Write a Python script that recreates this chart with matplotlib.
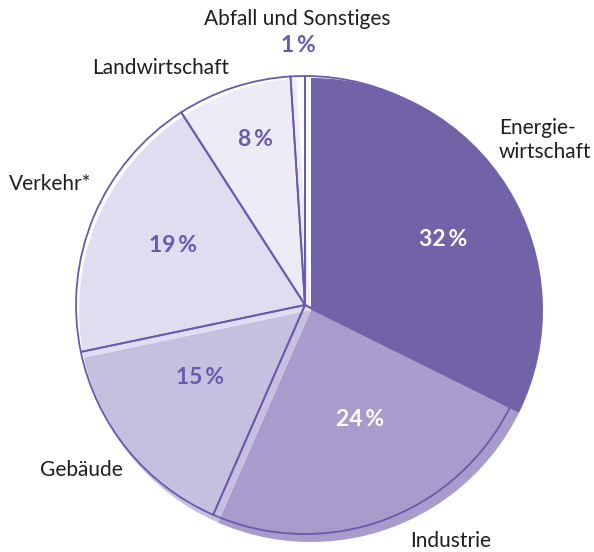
import matplotlib
matplotlib.use("Agg")
import matplotlib.pyplot as plt

plt.rcParams['font.family'] = ['Lato', 'DejaVu Sans']

# Anteile der Sektoren (Prozent)
sektoren = ['Energie-\nwirtschaft', 'Industrie', 'Gebäude', 'Verkehr*',
            'Landwirtschaft', 'Abfall und Sonstiges']
anteile = [32, 24, 15, 19, 8, 1]

farben = ['#7262a8', '#a99ccd', '#c6bfe0', '#e1dcef', '#eeebf6', '#fbfafd']
linie = '#6a5aad'
H = 552  # Bildhoehe in Pixel, y wird von oben gezaehlt

# Positionen der Prozentangaben und Beschriftungen (Pixel, von oben)
pos_prozent = [(443, 240), (360, 420), (200, 377), (173, 245), (255, 139), (298, 46)]
farbe_prozent = ['white', 'white', linie, linie, linie, linie]
pos_label = [(499, 140), (451, 541), (81, 470), (50, 184), (161, 68), (297, 19)]
ha_label = ['left', 'center', 'center', 'center', 'center', 'center']

fig = plt.figure(figsize=(5.94, 5.52), dpi=100)
ax = fig.add_axes([0, 0, 1, 1])

# gefuellte Tortenstuecke, leicht nach rechts unten versetzt
flaechen, _ = ax.pie(anteile, colors=farben, center=(311, H - 310), radius=232,
                     startangle=90, counterclock=False,
                     wedgeprops=dict(linewidth=0, zorder=1))
# Umrisslinien der Torte
ax.pie(anteile, center=(305, H - 305), radius=229,
       startangle=90, counterclock=False,
       wedgeprops=dict(fill=False, edgecolor=linie, linewidth=1.3, zorder=2))
# Energiewirtschaft liegt ganz oben
flaechen[0].set_zorder(3)

for wert, (x, y), c in zip(anteile, pos_prozent, farbe_prozent):
    ax.text(x, H - y, f'{wert}\u2009%', ha='center', va='center',
            fontsize=16.5, fontweight='bold', color=c, zorder=4)

for name, (x, y), ha in zip(sektoren, pos_label, ha_label):
    ax.text(x, H - y, name, ha=ha, va='center', fontsize=15,
            color='#1e1e1e', linespacing=1.2, zorder=4)

ax.set_xlim(0, 594)
ax.set_ylim(0, H)
ax.set_axis_off()
fig.savefig('out.png', dpi=100)
